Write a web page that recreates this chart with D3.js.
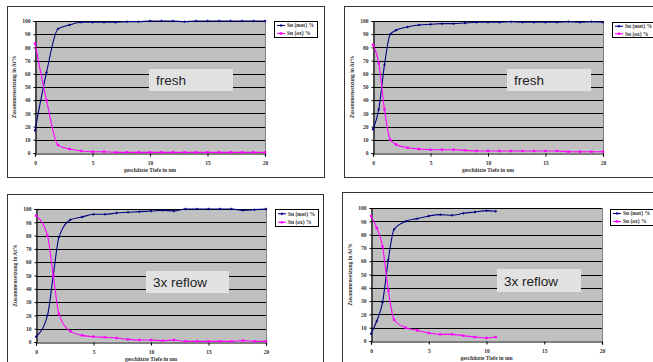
<!DOCTYPE html>
<html>
<head>
<meta charset="utf-8">
<script src="https://cdn.jsdelivr.net/npm/d3@7"></script>
<style>
  html, body { margin: 0; padding: 0; background: #fff; }
  svg { display: block; }
</style>
</head>
<body>
<svg id="chart" width="653" height="362"></svg>
<script>
const xTicks = [0, 5, 10, 15, 20];
const yTicks = [0, 10, 20, 30, 40, 50, 60, 70, 80, 90, 100];
const seriesNames = ['Sn (met) %', 'Sn (ox) %'];

const fresh1Depth = [0, 1, 2, 3, 4, 5, 6, 7, 8, 9, 10, 11, 12, 13, 14, 15, 16, 17, 18, 19, 20];
const fresh1Met = [17, 61, 94, 97, 99, 99, 99, 99, 99.5, 99.5, 100, 100, 100, 99.5, 100, 100, 100, 100, 100, 100, 100];
const fresh1Ox = [83, 40, 6, 3, 1.5, 1, 1, 0.5, 0.5, 0.5, 0.5, 0.5, 0.5, 0.5, 0.5, 0.5, 0.5, 0.5, 0.5, 0.5, 0.5];

const fresh2Depth = [0, 0.5, 1, 1.5, 2, 3, 4, 5, 6, 7, 8, 9, 10, 11, 12, 13, 14, 15, 16, 17, 18, 19, 20];
const fresh2Met = [18, 33, 67, 90, 93, 95.5, 97, 97.5, 98, 98, 98.5, 99, 99, 99, 99.5, 99, 99, 99, 99, 99.5, 99, 99.5, 99];
const fresh2Ox = [82, 68, 33, 10, 6.5, 4, 3, 2.5, 2.5, 2.5, 2, 1.5, 1.5, 1.5, 1.5, 1.5, 1.5, 1.5, 1.5, 1, 1, 1, 1];

const reflow1Depth = [0, 1, 1.5, 2, 3, 4, 5, 6, 7, 8, 9, 10, 11, 12, 13, 14, 15, 16, 17, 18, 19, 20];
const reflow1Met = [4, 20, 50, 79, 92, 94, 96, 96, 97, 97.5, 98, 98.5, 99, 98.5, 100, 100, 100, 100, 100, 99, 99.5, 100];
const reflow1Ox = [95, 80, 50, 21, 8, 5, 4, 3.5, 3, 2, 1.5, 1.5, 1, 1.5, 0.5, 0.5, 0.5, 0.5, 0.5, 1, 0.5, 0.5];

const reflow2Depth = [0, 0.5, 1, 1.5, 2, 3, 4, 5, 6, 7, 8, 9, 10, 10.8];
const reflow2Met = [5.5, 15, 29, 61, 84, 90, 92, 94, 95, 94.5, 96, 97, 98, 97.5];
const reflow2Ox = [94, 85, 71, 38, 16, 10, 8, 6, 5, 5, 4, 3, 2.3, 3];

const panels = [
  { label: 'fresh', depth: fresh1Depth, met: fresh1Met, ox: fresh1Ox,
    frame: [7, 6, 324, 177], plot: [35, 21, 265, 153], legend: [274, 21, 317, 37], box: [149, 69, 233, 91] },
  { label: 'fresh', depth: fresh2Depth, met: fresh2Met, ox: fresh2Ox,
    frame: [344, 6, 670, 177], plot: [373, 21, 603, 153], legend: [612, 22, 670, 37], box: [507, 69, 591, 91] },
  { label: '3x reflow', depth: reflow1Depth, met: reflow1Met, ox: reflow1Ox,
    frame: [7, 194, 323, 380], plot: [36, 209, 266, 342], legend: [275, 209, 318, 226], box: [146, 271, 229, 293] },
  { label: '3x reflow', depth: reflow2Depth, met: reflow2Met, ox: reflow2Ox,
    frame: [342, 192, 670, 380], plot: [371, 208, 602, 341], legend: [610, 209, 670, 225], box: [497, 269, 581, 292] },
];

const colors = ['#000080', '#ff00ff'];
const svg = d3.select('#chart');

function drawMarker(g, kind, color) {
  if (kind === 0) {
    g.append('path').attr('d', 'M0,-1.4L1.4,0L0,1.4L-1.4,0Z').attr('fill', color);
  } else {
    g.append('rect').attr('x', -1.2).attr('y', -1.2).attr('width', 2.4).attr('height', 2.4).attr('fill', color);
  }
}

function drawPanel(p) {
  const g = svg.append('g');
  const [fx0, fy0, fx1, fy1] = p.frame;
  g.append('rect')
    .attr('x', fx0 + 0.5).attr('y', fy0 + 0.5)
    .attr('width', fx1 - fx0).attr('height', fy1 - fy0)
    .attr('fill', '#fff').attr('stroke', '#333').attr('stroke-width', 1);

  const [px0, py0, px1, py1] = p.plot;
  const x = d3.scaleLinear().domain([0, 20]).range([px0, px1]);
  const y = d3.scaleLinear().domain([0, 100]).range([py1, py0]);

  g.append('rect')
    .attr('x', px0).attr('y', py0)
    .attr('width', px1 - px0).attr('height', py1 - py0)
    .attr('fill', '#c0c0c0');

  g.append('g')
    .selectAll('line')
    .data(yTicks.slice(1))
    .join('line')
    .attr('x1', px0).attr('x2', px1)
    .attr('y1', (d) => Math.round(y(d)) + 0.5)
    .attr('y2', (d) => Math.round(y(d)) + 0.5)
    .attr('stroke', '#000').attr('stroke-width', 1);

  // plot border (right side grey like Excel)
  g.append('line')
    .attr('x1', px1 + 0.5).attr('x2', px1 + 0.5).attr('y1', py0).attr('y2', py1)
    .attr('stroke', '#808080');

  const yAxis = g.append('g')
    .attr('transform', `translate(${px0 + 0.5},0)`)
    .call(d3.axisLeft(y).tickValues(yTicks).tickSize(2).tickPadding(3).tickFormat((d) => d));
  const xAxis = g.append('g')
    .attr('transform', `translate(0,${Math.round(py1) + 0.5})`)
    .call(d3.axisBottom(x).tickValues(xTicks).tickSize(3).tickPadding(5).tickFormat((d) => d));
  [yAxis, xAxis].forEach((ax) => {
    ax.select('.domain').attr('stroke', '#000').attr('stroke-width', 1.2);
    ax.selectAll('.tick line').attr('stroke', '#000');
    ax.selectAll('text')
      .attr('font-family', 'Liberation Serif')
      .attr('font-size', 5.5)
      .attr('font-weight', 'bold')
      .attr('fill', '#333');
  });

  g.append('text')
    .attr('transform', `translate(${px0 - 19},${(py0 + py1) / 2}) rotate(-90)`)
    .attr('text-anchor', 'middle')
    .attr('font-family', 'Liberation Serif')
    .attr('font-size', 5.5)
    .attr('font-weight', 'bold')
    .attr('fill', '#333')
    .text('Zusammensetzung in At%');

  g.append('text')
    .attr('x', (px0 + px1) / 2)
    .attr('y', py1 + 19)
    .attr('text-anchor', 'middle')
    .attr('font-family', 'Liberation Serif')
    .attr('font-size', 5.5)
    .attr('font-weight', 'bold')
    .attr('fill', '#333')
    .text('geschätzte Tiefe in nm');

  [p.met, p.ox].forEach((vals, si) => {
    const pts = p.depth.map((d, i) => [d, vals[i]]);
    const line = d3.line()
      .x((d) => x(d[0]))
      .y((d) => y(d[1]))
      .curve(d3.curveMonotoneX);
    g.append('path')
      .datum(pts)
      .attr('d', line)
      .attr('fill', 'none')
      .attr('stroke', colors[si])
      .attr('stroke-width', 1.1);
    g.append('g')
      .selectAll('g')
      .data(pts)
      .join('g')
      .attr('transform', (d) => `translate(${x(d[0])},${y(d[1])})`)
      .each(function () { drawMarker(d3.select(this), si, colors[si]); });
  });

  const [bx0, by0, bx1, by1] = p.box;
  g.append('rect')
    .attr('x', bx0).attr('y', by0)
    .attr('width', bx1 - bx0).attr('height', by1 - by0)
    .attr('fill', '#e2e2e2');
  g.append('text')
    .attr('x', bx0 + 7)
    .attr('y', (by0 + by1) / 2 + 5)
    .attr('font-family', 'Liberation Sans')
    .attr('font-size', 13.5)
    .attr('fill', '#222')
    .text(p.label);

  const [lx0, ly0, lx1, ly1] = p.legend;
  g.append('rect')
    .attr('x', lx0 + 0.5).attr('y', ly0 + 0.5)
    .attr('width', lx1 - lx0).attr('height', ly1 - ly0)
    .attr('fill', '#fff').attr('stroke', '#000').attr('stroke-width', 1);
  const rowH = (ly1 - ly0) / 2;
  seriesNames.forEach((name, si) => {
    const cy = ly0 + rowH * (si + 0.5) + 0.5;
    g.append('line')
      .attr('x1', lx0 + 3).attr('x2', lx0 + 11)
      .attr('y1', cy).attr('y2', cy)
      .attr('stroke', colors[si]).attr('stroke-width', 1.1);
    const m = g.append('g').attr('transform', `translate(${lx0 + 7},${cy})`);
    drawMarker(m, si, colors[si]);
    g.append('text')
      .attr('x', lx0 + 13)
      .attr('y', cy + 1.8)
      .attr('font-family', 'Liberation Serif')
      .attr('font-size', 5.5)
      .attr('font-weight', 'bold')
      .attr('fill', '#333')
      .text(name);
  });
}

panels.forEach(drawPanel);
</script>
</body>
</html>
